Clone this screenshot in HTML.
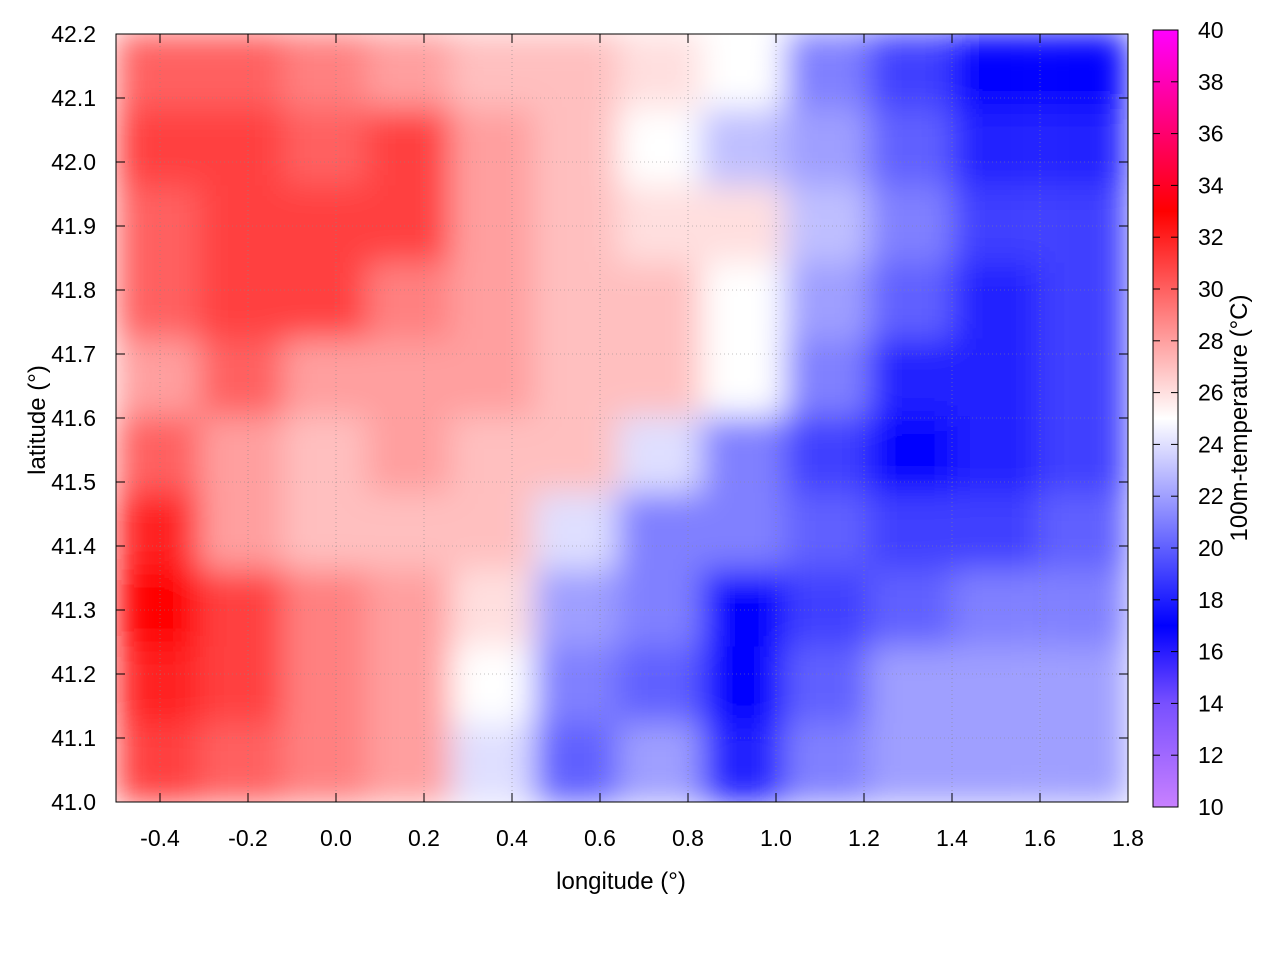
<!DOCTYPE html>
<html><head><meta charset="utf-8">
<style>
body{margin:0;background:#fff;}
svg text{font-family:"Liberation Sans",sans-serif;font-size:23px;fill:#000;}
</style></head>
<body>
<svg id="chart" width="1280" height="960" xmlns="http://www.w3.org/2000/svg">
<defs>
<filter id="blur" x="0" y="0" width="1" height="1"><feGaussianBlur stdDeviation="16" edgeMode="duplicate"/></filter>
<clipPath id="plotclip"><rect x="116" y="34" width="1012" height="768"/></clipPath>
<linearGradient id="cbgrad" x1="0" y1="1" x2="0" y2="0"></linearGradient>
</defs>
<g id="heat" clip-path="url(#plotclip)"><g id="cells" filter="url(#blur)"></g></g>
<g id="grid"></g>
<rect x="116" y="34" width="1012" height="768" fill="none" stroke="#000" stroke-width="1"/>
<g id="ticks"></g>
<rect id="cbar" x="1153" y="30" width="25" height="777" fill="url(#cbgrad)" stroke="#000" stroke-width="1"/>
<g id="cbticks"></g>
<text x="621" y="889" text-anchor="middle" style="font-size:24px">longitude (°)</text>
<text transform="translate(45,420) rotate(-90)" text-anchor="middle" style="font-size:24px">latitude (°)</text>
<text transform="translate(1247,418) rotate(-90)" text-anchor="middle" style="font-size:24px">100m-temperature (°C)</text>
</svg>
<script>
const lonCenters=[-0.40,-0.21,-0.02,0.17,0.36,0.55,0.74,0.93,1.12,1.31,1.50,1.70];
const latCenters=[42.14,42.02,41.90,41.78,41.66,41.54,41.42,41.30,41.18,41.06];
const temps=[
[30,30,29,28,27,27,26,25,21,19,17,17],
[31,31,30,31,28,27,25,23,22,20,18,18],
[30,31,31,31,28,27,26,26,23,21,19,19],
[30,31,31,29,28,27,27,25,22,20,18,19],
[28,30,28,28,28,27,27,25,21,18,18,19],
[30,28,27,28,27,27,24,21,19,17,18,19],
[32,28,27,27,27,24,21,21,20,19,19,20],
[33,31,29,28,26,22,21,17,19,20,21,21],
[32,31,29,28,25,21,20,17,20,22,22,22],
[31,30,29,28,24,20,22,18,21,22,22,22]];
const xTicks=[-0.4,-0.2,0.0,0.2,0.4,0.6,0.8,1.0,1.2,1.4,1.6,1.8];
const yTicks=[41.0,41.1,41.2,41.3,41.4,41.5,41.6,41.7,41.8,41.9,42.0,42.1,42.2];
const cbTicks=[10,12,14,16,18,20,22,24,26,28,30,32,34,36,38,40];
const stops=[[10,[200,128,255]],[14,[120,80,255]],[17,[0,0,255]],[25,[255,255,255]],[33,[255,0,0]],[40,[255,0,255]]];
const NS="http://www.w3.org/2000/svg";
const X=v=>116+(v+0.5)/2.3*1012;
const Y=v=>802-(v-41.0)/1.2*768;
const C=v=>807-(v-10)/30*777;
function col(t){for(let i=0;i<stops.length-1;i++){const[a,ca]=stops[i],[b,cb]=stops[i+1];if(t<=b){const f=Math.max(0,(t-a)/(b-a));return`rgb(${ca.map((c,k)=>Math.round(c+(cb[k]-c)*f)).join(',')})`;}}return'rgb(255,0,255)';}
function el(n,a,p){const e=document.createElementNS(NS,n);for(const k in a)e.setAttribute(k,a[k]);p.appendChild(e);return e;}
const cells=document.getElementById('cells');
const dx=X(0.19)-X(0),dy=Y(41.0)-Y(41.12);
temps.forEach((row,r)=>row.forEach((t,c)=>{
 const e=el('rect',{x:X(lonCenters[c])-dx/2-2,y:Y(latCenters[r])-dy/2-2,width:dx+4,height:dy+4,fill:col(t)},cells);
 
 
}));
const grid=document.getElementById('grid'),ticks=document.getElementById('ticks');
xTicks.forEach(v=>{
 el('line',{x1:X(v),x2:X(v),y1:34,y2:802,stroke:'#888','stroke-width':0.6,'stroke-dasharray':'1,3'},grid);
 el('line',{x1:X(v),x2:X(v),y1:802,y2:793,stroke:'#000'},ticks);
 el('line',{x1:X(v),x2:X(v),y1:34,y2:43,stroke:'#000'},ticks);
 const t=el('text',{x:X(v),y:846,'text-anchor':'middle'},ticks);t.textContent=v.toFixed(1);
 
 
});
yTicks.forEach(v=>{
 el('line',{x1:116,x2:1128,y1:Y(v),y2:Y(v),stroke:'#888','stroke-width':0.6,'stroke-dasharray':'1,3'},grid);
 el('line',{x1:116,x2:125,y1:Y(v),y2:Y(v),stroke:'#000'},ticks);
 el('line',{x1:1119,x2:1128,y1:Y(v),y2:Y(v),stroke:'#000'},ticks);
 const t=el('text',{x:96,y:Y(v)+8,'text-anchor':'end'},ticks);t.textContent=v.toFixed(1);
 
 
});
const g=document.getElementById('cbgrad');
stops.forEach(([v])=>el('stop',{offset:((v-10)/30*100)+'%','stop-color':col(v)},g));
const cbt=document.getElementById('cbticks');
cbTicks.forEach(v=>{
 el('line',{x1:1153,x2:1160,y1:C(v),y2:C(v),stroke:'#000'},cbt);
 el('line',{x1:1171,x2:1178,y1:C(v),y2:C(v),stroke:'#000'},cbt);
 const t=el('text',{x:1198,y:C(v)+8},cbt);t.textContent=v;
 
 
});
</script>
</body></html>
